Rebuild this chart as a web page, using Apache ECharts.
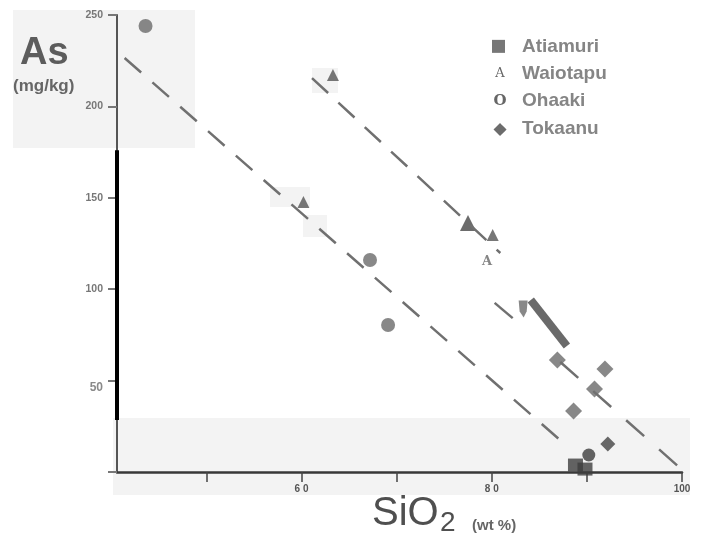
<!DOCTYPE html>
<html>
  <head>
    <title>As vs SiO2</title>
    <script src="https://cdn.jsdelivr.net/npm/echarts@6/dist/echarts.min.js"></script>
  </head>
  <body style="margin:0">
    <div id="main" style="width: 701px; height: 555px"></div>
    <script>
      // values (SiO2 wt%, As mg/kg)
      var atiamuri = [[88.8, 3.8], [89.8, 1.6]];
      var waiotapu = [[63.3, 217.2], [60.2, 147.7], [77.5, 136.2], [80.1, 129.6]];
      var waiotapuLetter = [[79.5, 114.9]];
      var ohaaki = [[43.6, 244], [67.2, 116], [69.1, 80.4], [90.2, 9.3]];
      var tokaanu = [[86.9, 61.3], [91.9, 56.3], [90.8, 45.4], [88.6, 33.4], [92.2, 15.3]];
      // trend lines
      var trendA = [[41.4, 226.5], [88.0, 13.7]];
      var trendB = [[61.1, 215.5], [80.9, 119.8]];
      var trendC1 = [[80.3, 92.5], [82.2, 84.2]];
      var trendC2 = [[87.2, 60.2], [99.8, 2.2]];
      var blob = [[84.1, 94.1], [87.9, 68.9]];
      var wedge = [[83.3, 89.2]];
      var axisBlack = [[40.6, 176], [40.6, 28.5]];
      var xTicks = [50, 60, 70, 80, 90, 100];
      var xLabels = [60, 80, 100];
      var xLabelText = { 60: "6 0", 80: "8 0", 100: "100" };
      var names = ["Atiamuri", "Waiotapu", "Ohaaki", "Tokaanu"];

      var font = "Liberation Sans, Arial, sans-serif";
      var chart = echarts.init(document.getElementById("main"));

      var iconKey = { Atiamuri: "sq", Waiotapu: "a", Ohaaki: "o", Tokaanu: "d" };
      var iconText = { Atiamuri: " ", Waiotapu: "A", Ohaaki: "O", Tokaanu: "\u25C6" };

      function bg(x, y, w, h) {
        return { type: "rect", z: -10, shape: { x: x, y: y, width: w, height: h }, style: { fill: "#f3f3f3" } };
      }

      var option = {
        animation: false,
        backgroundColor: "#fff",
        grid: { left: 117, right: 19, top: 15, bottom: 83, outerBoundsMode: "none" },
        legend: {
          data: names,
          orient: "vertical",
          left: 487,
          top: 30,
          padding: 0,
          icon: "none",
          itemWidth: 0,
          itemHeight: 14,
          itemGap: -5.3,
          selectedMode: false,
          formatter: function (n) {
            return "{" + iconKey[n] + "|" + iconText[n] + "}{" + (n === "Atiamuri" ? "ts" : "t") + "|" + n + "}";
          },
          textStyle: {
            lineHeight: 20,
            rich: {
              sq: { width: 13, height: 13, lineHeight: 20, backgroundColor: "#777" },
              a: { width: 16, align: "center", lineHeight: 20, fontFamily: "DejaVu Serif", fontSize: 13, color: "#666" },
              o: { width: 16, align: "center", lineHeight: 20, fontFamily: "DejaVu Serif", fontWeight: "bold", fontSize: 15, color: "#666" },
              d: { width: 16, align: "center", lineHeight: 20, fontFamily: "DejaVu Sans", fontSize: 17, color: "#6c6c6c" },
              t: { fontFamily: font, fontWeight: "bold", fontSize: 19, color: "#858585", padding: [0, 0, 0, 14], lineHeight: 20 },
              ts: { fontFamily: font, fontWeight: "bold", fontSize: 19, color: "#858585", padding: [0, 0, 0, 17], lineHeight: 20 }
            }
          }
        },
        xAxis: {
          type: "value",
          min: 40.6,
          max: 100,
          splitLine: { show: false },
          axisLine: { lineStyle: { color: "#383838", width: 2.5 } },
          axisTick: { customValues: xTicks, length: 10, lineStyle: { color: "#444", width: 1.5 } },
          axisLabel: {
            customValues: xLabels,
            margin: 9,
            fontFamily: font,
            fontWeight: "bold",
            fontSize: 10,
            color: "#555",
            formatter: function (v) { return xLabelText[v] || ""; }
          }
        },
        yAxis: {
          type: "value",
          min: 0,
          max: 250,
          interval: 50,
          splitLine: { show: false },
          axisLine: { lineStyle: { color: "#555", width: 2 } },
          axisTick: { length: 9, lineStyle: { color: "#777", width: 2 } },
          axisLabel: {
            margin: 14,
            fontFamily: font,
            fontWeight: "bold",
            fontSize: 10.5,
            color: "#777",
            formatter: function (v) {
              if (v === 0) return "";
              if (v === 50) return "{n|50}";
              return String(v);
            },
            rich: { n: { fontFamily: font, fontSize: 12, color: "#8a8a8a", padding: [14, 0, 0, 0] } }
          }
        },
        graphic: [
          bg(13, 10, 182, 138),
          bg(113, 418, 577, 77),
          bg(312, 68, 26, 25),
          bg(270, 187, 40, 20),
          bg(303, 215, 24, 22),
          { type: "text", left: 20, top: 21, style: { text: "As", font: "bold 38px " + font, fill: "#5c5c5c" } },
          { type: "text", left: 13, top: 72, style: { text: "(mg/kg)", font: "bold 17px " + font, fill: "#666" } },
          { type: "text", left: 372, top: 480, style: { text: "SiO", font: "40px " + font, fill: "#4f4f4f" } },
          { type: "text", left: 440, top: 499, style: { text: "2", font: "28px " + font, fill: "#4f4f4f" } },
          { type: "text", left: 472, top: 513, style: { text: "(wt %)", font: "bold 15px " + font, fill: "#666" } }
        ],
        series: [
          { type: "line", data: axisBlack, symbol: "none", clip: false, silent: true, lineStyle: { color: "#000", width: 4 }, z: 1 },
          { type: "line", data: trendA, symbol: "none", silent: true, lineStyle: { color: "#707070", width: 2.5, type: [22, 15] } },
          { type: "line", data: trendB, symbol: "none", silent: true, lineStyle: { color: "#707070", width: 2.5, type: [22, 14] } },
          { type: "line", data: trendC1, symbol: "none", silent: true, lineStyle: { color: "#707070", width: 2.5 } },
          { type: "line", data: trendC2, symbol: "none", silent: true, lineStyle: { color: "#707070", width: 2.5, type: [24, 20] } },
          { type: "line", data: blob, symbol: "none", silent: true, lineStyle: { color: "#6a6a6a", width: 8, cap: "butt" } },
          {
            type: "scatter", data: wedge, silent: true,
            symbol: "path://M0,0L9,0L8,11L5,17L1,11Z", symbolSize: [9, 17], symbolKeepAspect: false,
            itemStyle: { color: "#6a6a6a" }
          },
          { name: "Atiamuri", type: "scatter", data: atiamuri, symbol: "rect", symbolSize: [15, 13], itemStyle: { color: "#3d3d3d" }, z: 4 },
          {
            name: "Waiotapu", type: "scatter", symbol: "triangle", symbolSize: 12,
            itemStyle: { color: "#555" },
            data: waiotapu.map(function (p, i) {
              return i === 2 ? { value: p, symbolSize: 16, itemStyle: { color: "#474747" } } : p;
            }).concat(waiotapuLetter.map(function (p) {
              return {
                value: p, symbolSize: 10, itemStyle: { color: "rgba(0,0,0,0)" },
                label: { show: true, position: "inside", formatter: "A", fontFamily: "DejaVu Serif", fontWeight: "bold", fontSize: 13, color: "#666" }
              };
            }))
          },
          {
            name: "Ohaaki", type: "scatter", symbol: "circle", symbolSize: 14,
            itemStyle: { color: "#6a6a6a" },
            data: ohaaki.map(function (p, i) {
              return i === 3 ? { value: p, symbolSize: 13, itemStyle: { color: "#3d3d3d" } } : p;
            })
          },
          {
            name: "Tokaanu", type: "scatter", symbol: "diamond", symbolSize: 17,
            itemStyle: { color: "#6a6a6a" },
            data: tokaanu.map(function (p, i) {
              return i === 4 ? { value: p, symbolSize: 15, itemStyle: { color: "#444" } } : p;
            })
          }
        ]
      };
      chart.setOption(option);
    </script>
  </body>
</html>
